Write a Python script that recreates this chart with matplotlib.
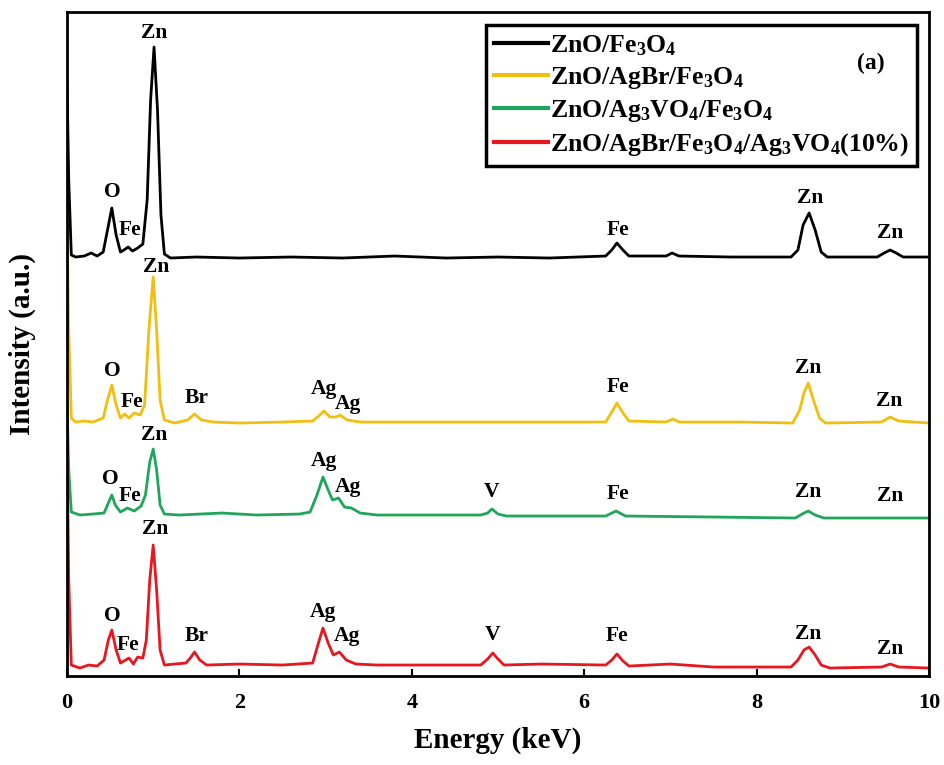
import matplotlib
matplotlib.use("Agg")
import matplotlib.pyplot as plt

plt.rcParams['font.family'] = ['Liberation Serif', 'DejaVu Serif']
plt.rcParams['font.weight'] = 'bold'
plt.rcParams['mathtext.default'] = 'regular'

# EDS spectra (energy in keV, intensity in a.u., already stacked)
black_x = [0.0, 0.02, 0.05, 0.1, 0.2, 0.28, 0.35, 0.42, 0.47, 0.52, 0.57, 0.62, 0.66, 0.71, 0.76,
           0.82, 0.88, 0.93, 0.97, 1.01, 1.05, 1.09, 1.13, 1.2, 1.5, 2.0, 2.6, 3.2, 3.8, 4.4, 5.0,
           5.6, 6.25, 6.32, 6.38, 6.45, 6.52, 6.95, 7.02, 7.1, 7.7, 8.4, 8.48, 8.54, 8.61, 8.68,
           8.75, 8.82, 9.4, 9.48, 9.55, 9.62, 9.7, 10.0]
black_y = [594, 496, 421, 419, 420, 423, 420, 424, 446, 468, 441, 424, 426, 429, 425,
           428, 432, 476, 576, 629, 566, 461, 422, 418, 419, 418, 419, 418, 420, 418, 419,
           418, 420, 426, 433, 426, 420, 420, 423, 420, 419, 419, 426, 451, 463, 446,
           424, 419, 419, 423, 426, 423, 419, 419]

yellow_x = [0.0, 0.02, 0.05, 0.1, 0.2, 0.3, 0.42, 0.47, 0.52, 0.57, 0.62, 0.67, 0.72, 0.78, 0.85,
            0.9, 0.95, 1.0, 1.04, 1.08, 1.13, 1.25, 1.4, 1.48, 1.56, 1.7, 2.0, 2.5, 2.85, 2.92,
            2.98, 3.05, 3.12, 3.17, 3.25, 3.4, 4.0, 5.0, 5.8, 6.25, 6.32, 6.38, 6.45, 6.52,
            6.95, 7.03, 7.1, 7.8, 8.42, 8.5, 8.55, 8.6, 8.66, 8.73, 8.8, 9.45, 9.55, 9.65, 10.0]
yellow_y = [461, 346, 258, 254, 255, 254, 258, 276, 291, 271, 258, 262, 258, 263, 261,
            271, 346, 399, 346, 276, 256, 253, 256, 262, 256, 254, 253, 254, 255, 260,
            265, 259, 259, 261, 256, 254, 254, 254, 254, 254, 264, 273, 263, 255,
            254, 257, 254, 254, 253, 266, 283, 293, 276, 258, 253, 254, 259, 255, 253]

green_x = [0.0, 0.02, 0.05, 0.15, 0.3, 0.43, 0.48, 0.52, 0.56, 0.62, 0.7, 0.78, 0.86, 0.91, 0.96,
           1.0, 1.04, 1.08, 1.13, 1.3, 1.8, 2.2, 2.7, 2.82, 2.9, 2.97, 3.03, 3.08, 3.15, 3.22,
           3.3, 3.4, 3.6, 4.2, 4.8, 4.88, 4.93, 5.0, 5.1, 5.7, 6.25, 6.37, 6.48, 7.5, 8.45,
           8.55, 8.6, 8.68, 8.78, 9.3, 10.0]
green_y = [276, 206, 164, 161, 162, 163, 173, 181, 171, 164, 168, 165, 170, 181, 214,
           227, 206, 171, 162, 161, 163, 161, 162, 164, 181, 199, 186, 176, 178, 169,
           168, 163, 161, 161, 161, 163, 167, 162, 160, 160, 160, 165, 160, 159, 158,
           163, 165, 161, 158, 158, 158]

red_x = [0.0, 0.02, 0.05, 0.15, 0.25, 0.35, 0.43, 0.48, 0.52, 0.57, 0.62, 0.68, 0.72, 0.77, 0.82,
         0.88, 0.92, 0.96, 1.0, 1.04, 1.08, 1.13, 1.25, 1.38, 1.43, 1.48, 1.54, 1.62, 2.0, 2.5,
         2.85, 2.91, 2.97, 3.03, 3.09, 3.16, 3.24, 3.35, 3.6, 4.2, 4.8, 4.88, 4.94, 5.0, 5.07,
         5.5, 6.25, 6.32, 6.38, 6.45, 6.52, 7.0, 7.5, 8.4, 8.48, 8.55, 8.61, 8.68, 8.75, 8.85,
         9.45, 9.55, 9.65, 10.0]
red_y = [236, 96, 11, 8, 11, 10, 16, 36, 46, 26, 13, 16, 18, 12, 19,
         18, 36, 96, 131, 86, 26, 11, 12, 13, 18, 24, 16, 11, 12, 11,
         13, 31, 48, 33, 21, 24, 16, 12, 11, 11, 11, 17, 23, 17, 11,
         12, 11, 16, 22, 15, 10, 12, 9, 9, 16, 26, 29, 21, 11, 8,
         9, 12, 9, 8]

series_names = [r'ZnO/Fe$_{3}$O$_{4}$',
                r'ZnO/AgBr/Fe$_{3}$O$_{4}$',
                r'ZnO/Ag$_{3}$VO$_{4}$/Fe$_{3}$O$_{4}$',
                r'ZnO/AgBr/Fe$_{3}$O$_{4}$/Ag$_{3}$VO$_{4}$(10%)']
series_colors = ['#000000', '#F2BE10', '#1FA65A', '#E8161E']

# peak labels: (element, energy, height)
black_peaks = [('Zn', 1.01, 643), ('O', 0.52, 484), ('Fe', 0.73, 446), ('Fe', 6.39, 446),
               ('Zn', 8.62, 478), ('Zn', 9.55, 443)]
yellow_peaks = [('Zn', 1.03, 409), ('O', 0.52, 305), ('Fe', 0.75, 274), ('Br', 1.5, 278),
                ('Ag', 2.98, 287), ('Ag', 3.26, 272), ('Fe', 6.39, 289), ('Zn', 8.6, 308),
                ('Zn', 9.54, 275)]
green_peaks = [('Zn', 1.01, 241), ('O', 0.5, 197), ('Fe', 0.73, 180), ('Ag', 2.98, 215),
               ('Ag', 3.26, 189), ('V', 4.93, 184), ('Fe', 6.39, 182), ('Zn', 8.6, 184),
               ('Zn', 9.55, 180)]
red_peaks = [('Zn', 1.02, 147), ('O', 0.52, 60), ('Fe', 0.71, 31), ('Br', 1.51, 40),
             ('Ag', 2.97, 64), ('Ag', 3.25, 40), ('V', 4.94, 41), ('Fe', 6.38, 40),
             ('Zn', 8.6, 42), ('Zn', 9.55, 27)]

fig = plt.figure(figsize=(9.45, 7.65), dpi=100)
ax = fig.add_axes([0.0709, 0.1163, 0.9121, 0.868])

spectra = [(black_x, black_y), (yellow_x, yellow_y), (green_x, green_y), (red_x, red_y)]
for (xs, ys), name, col in zip(spectra, series_names, series_colors):
    ax.plot(xs, ys, color=col, linewidth=2.0, label=name, solid_joinstyle='round')

for peaks in [black_peaks, yellow_peaks, green_peaks, red_peaks]:
    for el, e, h in peaks:
        ax.text(e, h, el, ha='center', va='center', fontsize=15.5, fontweight='bold')

ax.set_xlim(0, 10)
ax.set_ylim(0, 664)
ax.set_xticks([0, 2, 4, 6, 8, 10])
ax.set_yticks([])
ax.tick_params(axis='x', direction='in', length=5, width=1.5, labelsize=16, pad=12)
for lab in ax.get_xticklabels():
    lab.set_fontweight('bold')
for sp in ax.spines.values():
    sp.set_linewidth(2.0)

ax.set_xlabel('Energy (keV)', fontsize=21, fontweight='bold', labelpad=10)
ax.set_ylabel('Intensity (a.u.)', fontsize=21, fontweight='bold', labelpad=22)

leg = ax.legend(loc='upper right', bbox_to_anchor=(0.986, 0.980), borderaxespad=0,
                fancybox=False, framealpha=1, edgecolor='black',
                handlelength=2.1, handletextpad=0.1, labelspacing=0.28, borderpad=0.3,
                prop={'weight': 'bold', 'size': 18.5})
leg.get_frame().set_linewidth(2.5)
for line in leg.get_lines():
    line.set_linewidth(3)

ax.text(0.932, 0.922, '(a)', transform=ax.transAxes, ha='center', va='center',
        fontsize=17, fontweight='bold', zorder=10)

fig.savefig('out.png', dpi=100)
